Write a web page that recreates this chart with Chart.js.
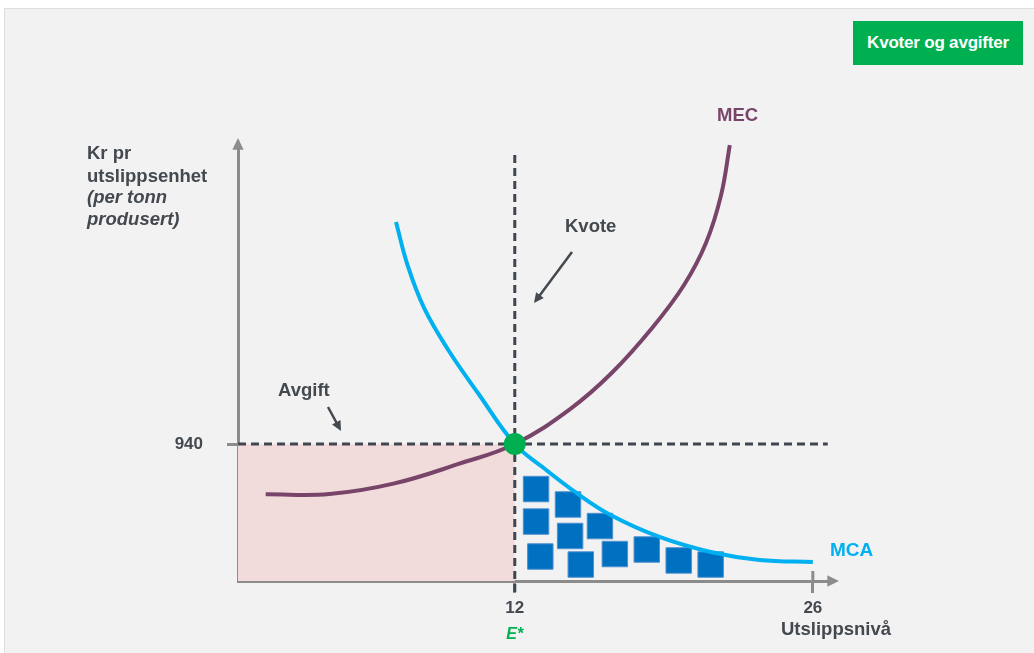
<!DOCTYPE html>
<html>
<head>
<meta charset="utf-8">
<script src="https://cdn.jsdelivr.net/npm/chart.js@4/dist/chart.umd.min.js"></script>
<style>
    html, body { margin: 0; padding: 0; background: #ffffff; }
    body { width: 1034px; height: 653px; position: relative; overflow: hidden; font-family: "Liberation Sans", Arial, sans-serif; }
    .panel { position: absolute; left: 4px; top: 8px; right: 0; bottom: 0; background: #f2f2f2; border-top: 1px solid #dedede; border-left: 1px solid #dedede; }
    .badge { position: absolute; left: 853px; top: 21px; width: 170px; height: 44px; background: #00b050; color: #fff;
             font-weight: bold; font-size: 17px; line-height: 44px; text-align: center; letter-spacing: -0.2px; }
    #wrap { position: absolute; left: 0; top: 0; width: 1034px; height: 653px; }
</style>
</head>
<body>
<div class="panel"></div>
<div class="badge">Kvoter og avgifter</div>
<div id="wrap"><canvas id="chart"></canvas></div>
<script>
// Values
const xTicks = [12, 26];
const yTicks = [940];
const eqX = 12;
const eqY = 940;

const mecX = [0.3, 3.3, 6.3, 9.4, 12, 14.6, 16.55, 18.45, 19.95, 20.98, 21.69, 22.1];
const mecY = [595, 597, 668, 805, 940, 1180, 1427, 1736, 2031, 2319, 2648, 2991];

const mcaX = [6.42, 6.98, 7.75, 8.9, 10.27, 12, 13.3, 14.9, 16.5, 18.8, 21.2, 23.5, 26.0];
const mcaY = [2463, 2160, 1870, 1580, 1290, 940, 782, 604, 453, 302, 199, 144, 130];

const quotaX = [13.0, 14.5, 13.0, 14.6, 16.0, 13.2, 15.1, 16.7, 18.2, 19.7, 21.2];
const quotaY = [631, 525, 408, 309, 377, 168, 113, 185, 216, 141, 113];

const TEXT = '#43494f';
const AXIS = '#8c8c8c';
const FONT = '"Liberation Sans", Arial, sans-serif';

const zip = (xs, ys) => xs.map((x, i) => ({ x, y: ys[i] }));

function arrow(ctx, x1, y1, x2, y2, color, w, head) {
    const a = Math.atan2(y2 - y1, x2 - x1);
    ctx.save();
    ctx.strokeStyle = color;
    ctx.fillStyle = color;
    ctx.lineWidth = w;
    ctx.beginPath();
    ctx.moveTo(x1, y1);
    ctx.lineTo(x2 - Math.cos(a) * head * 0.8, y2 - Math.sin(a) * head * 0.8);
    ctx.stroke();
    ctx.beginPath();
    ctx.moveTo(x2, y2);
    ctx.lineTo(x2 - head * Math.cos(a - 0.45), y2 - head * Math.sin(a - 0.45));
    ctx.lineTo(x2 - head * Math.cos(a + 0.45), y2 - head * Math.sin(a + 0.45));
    ctx.closePath();
    ctx.fill();
    ctx.restore();
}

const decorations = {
    id: 'decorations',
    afterDraw(chart) {
        const ctx = chart.ctx;
        const xs = chart.scales.x;
        const area = chart.chartArea;

        // axis arrow heads
        arrow(ctx, area.left, area.top + 2, area.left, 138, AXIS, 3, 13);
        arrow(ctx, area.right - 2, area.bottom, 839, area.bottom, AXIS, 3, 13);

        // tick at 26 reaches above the axis too
        ctx.save();
        ctx.strokeStyle = AXIS;
        ctx.lineWidth = 3;
        ctx.beginPath();
        ctx.moveTo(xs.getPixelForValue(26), area.bottom);
        ctx.lineTo(xs.getPixelForValue(26), area.bottom - 10);
        ctx.stroke();
        ctx.restore();

        ctx.save();
        ctx.textBaseline = 'middle';
        ctx.fillStyle = TEXT;
        ctx.font = 'bold 18.5px ' + FONT;
        ctx.textAlign = 'left';
        ctx.fillText('Kr pr', 87, 154);
        ctx.fillText('utslippsenhet', 87, 177);
        ctx.font = 'italic bold 18.5px ' + FONT;
        ctx.fillText('(per tonn', 87, 198);
        ctx.fillText('produsert)', 87, 220);

        ctx.font = 'bold 18.5px ' + FONT;
        ctx.fillText('Kvote', 565, 227);
        ctx.fillText('Avgift', 278, 391);
        ctx.fillText('Utslippsnivå', 781, 630);

        ctx.fillStyle = '#79446a';
        ctx.fillText('MEC', 717, 116);
        ctx.fillStyle = '#00b0f0';
        ctx.font = 'bold 19px ' + FONT;
        ctx.fillText('MCA', 830, 551);

        ctx.fillStyle = '#00b050';
        ctx.font = 'italic bold 16px ' + FONT;
        ctx.textAlign = 'center';
        ctx.fillText('E*', xs.getPixelForValue(eqX), 635);
        ctx.restore();

        arrow(ctx, 572, 252, 534, 303, TEXT, 2.5, 11);
        arrow(ctx, 328, 407, 341, 431, TEXT, 2.5, 11);
    }
};

const ctx = document.getElementById('chart').getContext('2d');
new Chart(ctx, {
    type: 'scatter',
    data: {
        datasets: [
            {
                // tax area
                type: 'line',
                data: [{ x: -1, y: eqY }, { x: eqX, y: eqY }],
                borderWidth: 0,
                pointRadius: 0,
                fill: 'origin',
                backgroundColor: '#f2dcdb',
                order: 10
            },
            {
                type: 'line',
                data: [{ x: -1, y: eqY }, { x: 26.7, y: eqY }],
                borderColor: '#3f4650',
                borderWidth: 3,
                borderDash: [8, 5],
                pointRadius: 0,
                order: 6
            },
            {
                type: 'line',
                data: [{ x: eqX, y: 2923 }, { x: eqX, y: -75 }],
                borderColor: '#3f4650',
                borderWidth: 3,
                borderDash: [8, 5],
                pointRadius: 0,
                clip: false,
                order: 6
            },
            {
                data: zip(quotaX, quotaY),
                pointStyle: 'rect',
                pointRadius: 18,
                backgroundColor: '#0070c0',
                borderColor: '#4f90cf',
                borderWidth: 1,
                order: 5
            },
            {
                label: 'MEC',
                type: 'line',
                data: zip(mecX, mecY),
                borderColor: '#79446a',
                borderWidth: 4,
                pointRadius: 0,
                tension: 0.4,
                clip: false,
                order: 3
            },
            {
                label: 'MCA',
                type: 'line',
                data: zip(mcaX, mcaY),
                borderColor: '#00b0f0',
                borderWidth: 4,
                pointRadius: 0,
                tension: 0.4,
                clip: false,
                order: 2
            },
            {
                data: [{ x: eqX, y: eqY }],
                pointRadius: 11,
                backgroundColor: '#00b050',
                borderWidth: 0,
                clip: false,
                order: 0
            }
        ]
    },
    options: {
        responsive: true,
        maintainAspectRatio: false,
        animation: false,
        layout: { padding: { left: 0, top: 146, right: 202, bottom: 0 } },
        plugins: { legend: { display: false }, tooltip: { enabled: false } },
        scales: {
            x: {
                type: 'linear',
                min: -1,
                max: 26.9,
                afterBuildTicks: (scale) => { scale.ticks = xTicks.map(v => ({ value: v })); },
                afterFit: (scale) => { scale.height = 72; },
                border: { color: AXIS, width: 3 },
                grid: { drawOnChartArea: false, drawTicks: true, tickLength: 12, color: AXIS, lineWidth: 3 },
                ticks: { color: TEXT, padding: 5, font: { family: FONT, size: 17, weight: 'bold' } }
            },
            y: {
                type: 'linear',
                min: 0,
                max: 2985,
                afterBuildTicks: (scale) => { scale.ticks = yTicks.map(v => ({ value: v })); },
                afterFit: (scale) => { scale.width = 238; },
                border: { color: AXIS, width: 3 },
                grid: { drawOnChartArea: false, drawTicks: true, tickLength: 11, color: AXIS, lineWidth: 3 },
                ticks: { color: TEXT, padding: 24, font: { family: FONT, size: 17, weight: 'bold' } }
            }
        }
    },
    plugins: [decorations]
});
</script>
</body>
</html>
